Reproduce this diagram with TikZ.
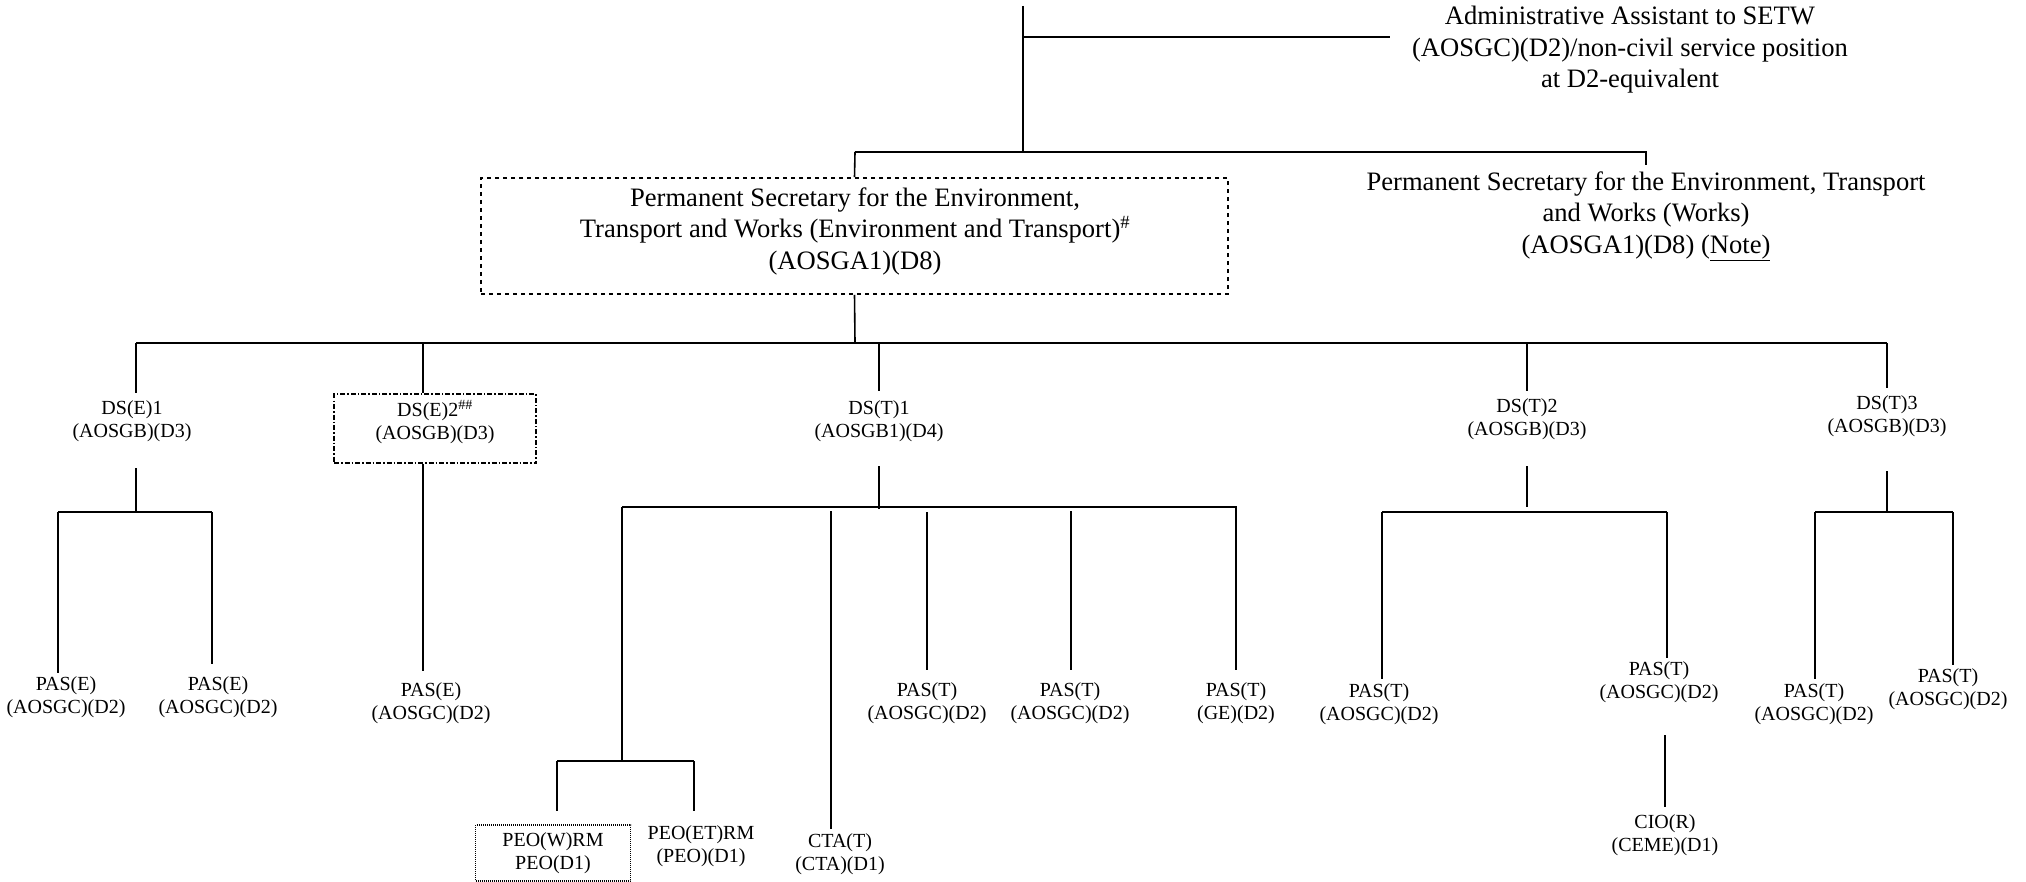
\documentclass[tikz,border=0pt]{standalone}
\usepackage{fontspec}
\setmainfont{Liberation Serif}
\tikzset{
 txtbig/.style={font=\fontsize{26.6}{31.5}\selectfont, align=center, inner sep=0pt},
 txtsmall/.style={font=\fontsize{20}{23}\selectfont, align=center, inner sep=0pt},
 wire/.style={line width=1.6pt},
 bus/.style={line width=2.4pt},
 psframe/.style={draw, line width=1.6pt, dash pattern=on 4pt off 4pt, minimum width=747pt, minimum height=116pt, inner sep=0pt},
 dsframe/.style={draw, line width=1.6pt, dash pattern=on 5pt off 2pt on 1.5pt off 2pt, minimum width=202pt, minimum height=69pt, inner sep=0pt},
 peoframe/.style={txtsmall, draw, line width=1.2pt, dash pattern=on 1pt off 1pt, minimum width=155pt, minimum height=56pt},
}
\begin{document}
\begin{tikzpicture}[x=1pt,y=-1pt]
\useasboundingbox (0,0) rectangle (2026,882);
% nodes
\node[txtbig] (admin) at (1630,50) {Administrative Assistant to SETW\\(AOSGC)(D2)/non-civil service position\\at D2-equivalent};
\node[txtbig] (psw) at (1646,216) {Permanent Secretary for the Environment, Transport\\and Works (Works)\\(AOSGA1)(D8) (\underline{Note)}};
\node[psframe] (psbox) at (854.5,236) {};
\node[txtbig] (pstext) at (855,231) {Permanent Secretary for the Environment,\\Transport and Works (Environment and Transport)\textsuperscript{\#}\\(AOSGA1)(D8)};
\node[txtsmall] (dse1) at (132,421) {DS(E)1\\(AOSGB)(D3)};
\node[dsframe] (dse2box) at (435,428.5) {};
\node[txtsmall] (dse2) at (435,422) {DS(E)2\textsuperscript{\#\#}\\(AOSGB)(D3)};
\node[txtsmall] (dst1) at (879,421) {DS(T)1\\(AOSGB1)(D4)};
\node[txtsmall] (dst2) at (1527,419) {DS(T)2\\(AOSGB)(D3)};
\node[txtsmall] (dst3) at (1887,416) {DS(T)3\\(AOSGB)(D3)};
\node[txtsmall] (pase1) at (66,697) {PAS(E)\\(AOSGC)(D2)};
\node[txtsmall] (pase2) at (218,697) {PAS(E)\\(AOSGC)(D2)};
\node[txtsmall] (pase3) at (431,703) {PAS(E)\\(AOSGC)(D2)};
\node[txtsmall] (past1) at (927,703) {PAS(T)\\(AOSGC)(D2)};
\node[txtsmall] (past2) at (1070,703) {PAS(T)\\(AOSGC)(D2)};
\node[txtsmall] (past3) at (1236,703) {PAS(T)\\(GE)(D2)};
\node[peoframe] (peow) at (553,853) {PEO(W)RM\\PEO(D1)};
\node[txtsmall] (peoet) at (701,846.5) {PEO(ET)RM\\(PEO)(D1)};
\node[txtsmall] (cta) at (840,854.5) {CTA(T)\\(CTA)(D1)};
\node[txtsmall] (past4) at (1379,704.5) {PAS(T)\\(AOSGC)(D2)};
\node[txtsmall] (past5) at (1659,682.5) {PAS(T)\\(AOSGC)(D2)};
\node[txtsmall] (cio) at (1665,835) {CIO(R)\\(CEME)(D1)};
\node[txtsmall] (past6) at (1814,704) {PAS(T)\\(AOSGC)(D2)};
\node[txtsmall] (past7) at (1948,689.5) {PAS(T)\\(AOSGC)(D2)};
% coordinates
\coordinate (top) at (1023,6);
\coordinate (j1) at (1023,37);
\coordinate (j1e) at (1390,37);
\coordinate (j2) at (1023,152);
\coordinate (j2l) at (855,152);
\coordinate (j2r) at (1646,152);
\coordinate (j2re) at (1646,165);
\coordinate (j3) at (855,343);
\coordinate (b1) at (136,343);
\coordinate (b2) at (423,343);
\coordinate (b3) at (879,343);
\coordinate (b4) at (1527,343);
\coordinate (b5) at (1887,343);
\coordinate (b1e) at (136,393);
\coordinate (b3e) at (879,391);
\coordinate (b4e) at (1527,391);
\coordinate (b5e) at (1887,388);
% top part
\draw[wire] (top) -- (j2);
\draw[wire] (j1) -- (j1e);
\draw[wire] (j2l) -- (j2r) -- (j2re);
\draw[wire] (j2l) -- (psbox.north);
\draw[wire] (psbox.south) -- (j3);
\draw[bus] (b1) -- (b5);
\draw[wire] (b1) -- (b1e);
\draw[wire] (b2) -- (b2 |- dse2box.north);
\draw[wire] (b3) -- (b3e);
\draw[wire] (b4) -- (b4e);
\draw[wire] (b5) -- (b5e);
% DS(E)1 branch
\coordinate (e1a) at (136,468);
\coordinate (e1b) at (136,512);
\coordinate (e1l) at (58,512);
\coordinate (e1r) at (212,512);
\coordinate (e1le) at (58,673);
\coordinate (e1re) at (212,664);
\draw[wire] (e1a) -- (e1b);
\draw[bus] (e1l) -- (e1r);
\draw[wire] (e1l) -- (e1le);
\draw[wire] (e1r) -- (e1re);
% DS(E)2 branch
\coordinate (e2e) at (423,671);
\draw[wire] (b2 |- dse2box.south) -- (e2e);
% DS(T)1 branch
\coordinate (t1a) at (879,466);
\coordinate (t1b) at (879,509);
\coordinate (t1l) at (622,507);
\coordinate (t1r) at (1237,507);
\coordinate (t1le) at (622,761);
\coordinate (pl) at (557,761);
\coordinate (pr) at (694,761);
\coordinate (ple) at (557,811);
\coordinate (pre) at (694,811);
\coordinate (c1) at (831,511);
\coordinate (c1e) at (831,829);
\coordinate (c2) at (927,512);
\coordinate (c2e) at (927,670);
\coordinate (c3) at (1071,511);
\coordinate (c3e) at (1071,670);
\coordinate (c4) at (1236,508);
\coordinate (c4e) at (1236,670);
\draw[wire] (t1a) -- (t1b);
\draw[bus] (t1l) -- (t1r);
\draw[wire] (t1l) -- (t1le);
\draw[bus] (pl) -- (pr);
\draw[wire] (pl) -- (ple);
\draw[wire] (pr) -- (pre);
\draw[wire] (c1) -- (c1e);
\draw[wire] (c2) -- (c2e);
\draw[wire] (c3) -- (c3e);
\draw[wire] (c4) -- (c4e);
% DS(T)2 branch
\coordinate (t2a) at (1527,466);
\coordinate (t2b) at (1527,507);
\coordinate (t2l) at (1382,512);
\coordinate (t2r) at (1667,512);
\coordinate (t2le) at (1382,679);
\coordinate (t2re) at (1667,658);
\coordinate (ca) at (1665,735);
\coordinate (cb) at (1665,807);
\draw[wire] (t2a) -- (t2b);
\draw[bus] (t2l) -- (t2r);
\draw[wire] (t2l) -- (t2le);
\draw[wire] (t2r) -- (t2re);
\draw[wire] (ca) -- (cb);
% DS(T)3 branch
\coordinate (t3a) at (1887,471);
\coordinate (t3b) at (1887,512);
\coordinate (t3l) at (1815,512);
\coordinate (t3r) at (1953,512);
\coordinate (t3le) at (1815,679);
\coordinate (t3re) at (1953,665);
\draw[wire] (t3a) -- (t3b);
\draw[bus] (t3l) -- (t3r);
\draw[wire] (t3l) -- (t3le);
\draw[wire] (t3r) -- (t3re);
\end{tikzpicture}
\end{document}
